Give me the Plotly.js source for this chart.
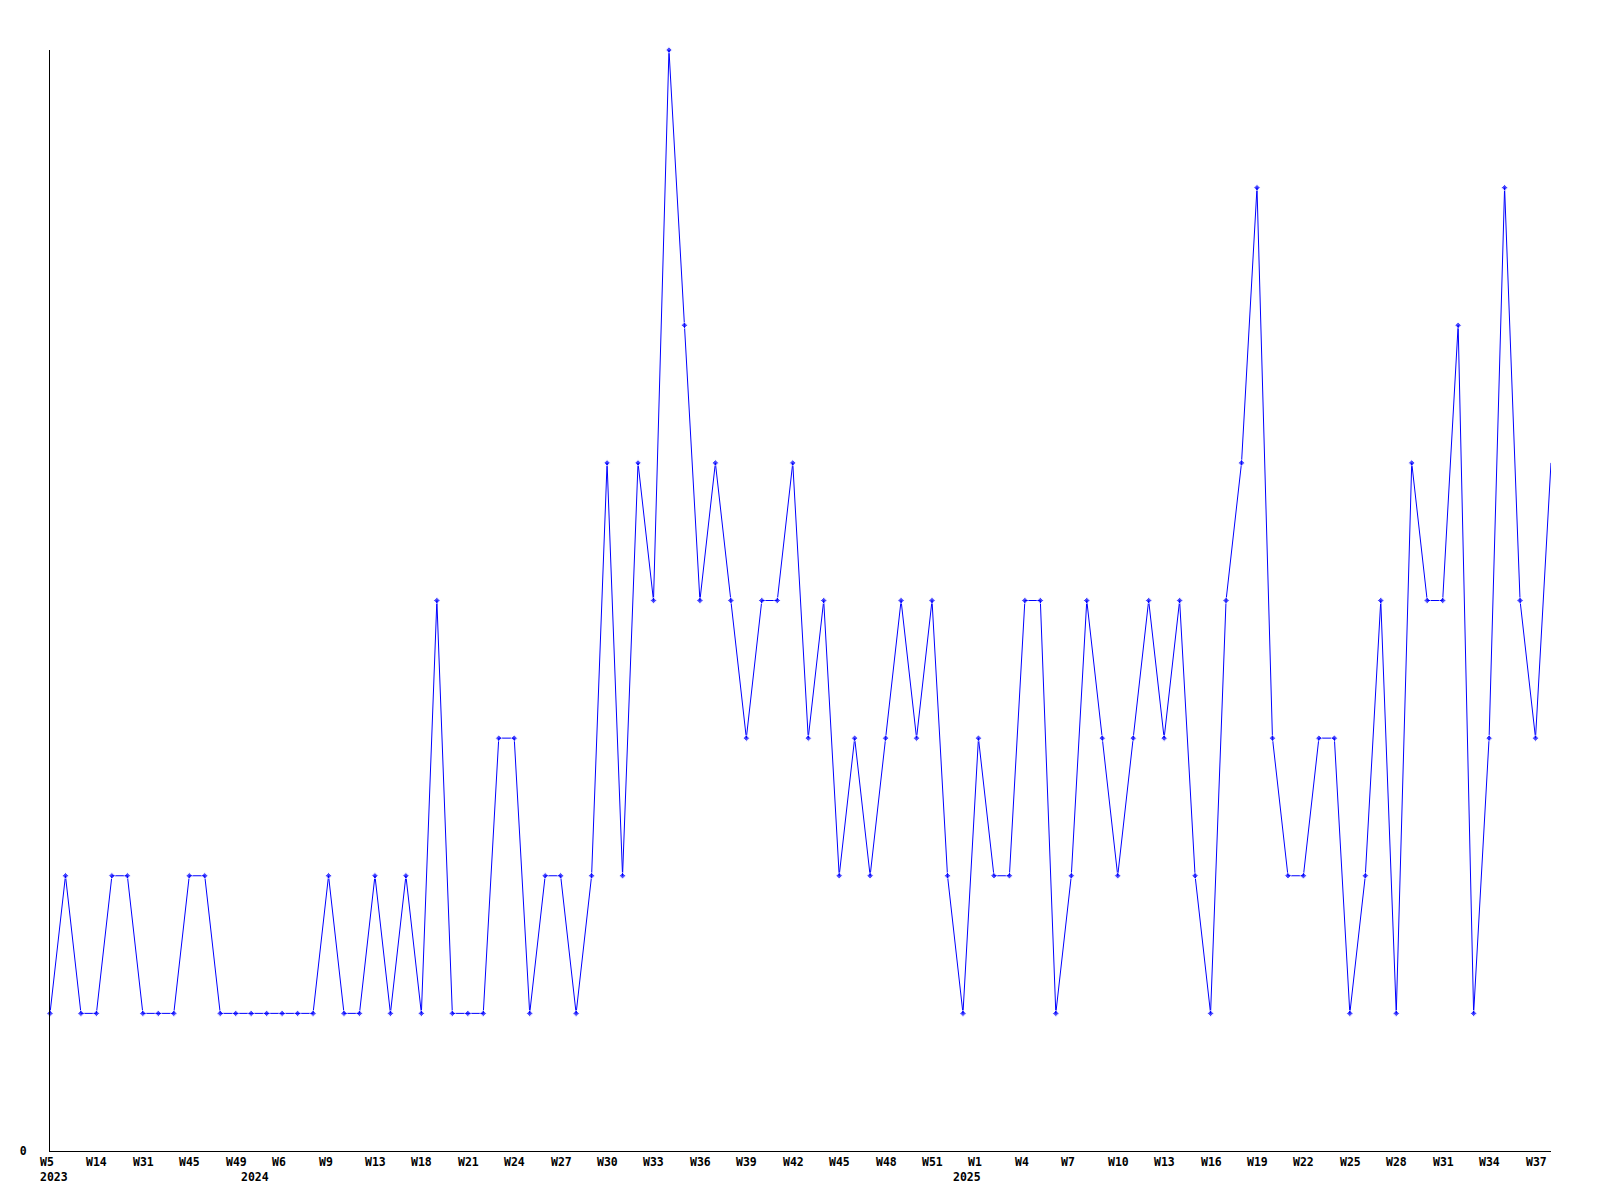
<!DOCTYPE html>
<html>
<head>
<meta charset="utf-8">
<script src="https://cdn.plot.ly/plotly-3.0.1.min.js"></script>
<style>html,body{margin:0;padding:0;background:#fff;}#chart{width:1600px;height:1200px;}</style>
</head>
<body>
<div id="chart"></div>
<script>
// Week category of each point (sparse in 2023, weekly from mid-2024)
const weekLabels = [
  'W5','W8','W11','W14','W20','W26','W31','W37','W41','W45','W46','W48','W49',
  'W0','W3','W6','W7','W8','W9','W10','W11','W13','W15','W16',
  'W18','W19','W20','W21','W22','W23','W24','W25','W26','W27','W28','W29','W30',
  'W31','W32','W33','W34','W35','W36','W37','W38','W39','W40','W41','W42','W43',
  'W44','W45','W46','W47','W48','W49','W50','W51','W52',
  'W0','W1','W2','W3','W4','W5','W6','W7','W8','W9','W10','W11','W12','W13',
  'W14','W15','W16','W17','W18','W19','W20','W21','W22','W23','W24','W25','W26',
  'W27','W28','W29','W30','W31','W32','W33','W34','W35','W36','W37','W38'
];
// Counts per week
const counts = [
  1,2,1,1,2,2,1,1,1,2,2,1,1,
  1,1,1,1,1,2,1,1,2,1,2,
  1,4,1,1,1,3,3,1,2,2,1,2,5,
  2,5,4,8,6,4,5,4,3,4,4,5,3,
  4,2,3,2,3,4,3,4,2,
  1,3,2,2,4,4,1,2,4,3,2,3,4,3,
  4,2,1,4,5,7,3,2,2,3,3,1,2,
  4,1,5,4,4,6,1,3,7,4,3,5
];
// Year labels and the point index where each year starts
const yearLabels = ['2023','2024','2025'];
const yearStartIndex = [0,13,59];
const yTickVals = [0];
const yTickText = ['0'];
const labelEvery = 3;

const xIdx = weekLabels.map((_, i) => i);
const markerSizes = counts.map((_, i) => i === counts.length - 1 ? 0 : 5);

const fontBase = {family: 'DejaVu Sans Mono, monospace', size: 11.5, color: '#000', weight: 'bold'};

const annotations = [];
weekLabels.forEach((w, i) => {
  if (i % labelEvery === 0) {
    annotations.push({
      x: i, xref: 'x', y: 0, yref: 'paper', text: w, showarrow: false,
      xanchor: 'left', yanchor: 'top', xshift: -12, yshift: -2, font: fontBase
    });
  }
});
yearLabels.forEach((yl, k) => {
  annotations.push({
    x: yearStartIndex[k], xref: 'x', y: 0, yref: 'paper', text: yl, showarrow: false,
    xanchor: 'left', yanchor: 'top', xshift: -12, yshift: -17, font: fontBase
  });
});

const trace = {
  x: xIdx,
  y: counts,
  type: 'scatter',
  mode: 'lines+markers',
  line: {color: '#0000ff', width: 1},
  marker: {color: '#0000ff', size: markerSizes, symbol: 'diamond'},
  cliponaxis: false,
  hoverinfo: 'skip'
};

const layout = {
  width: 1600, height: 1200,
  margin: {l: 50, r: 49, t: 50, b: 49, pad: 0},
  paper_bgcolor: '#fff', plot_bgcolor: '#fff',
  showlegend: false,
  xaxis: {
    range: [0, counts.length - 1], showgrid: false, zeroline: false,
    showline: true, linecolor: '#000', linewidth: 1,
    showticklabels: false, ticks: ''
  },
  yaxis: {
    range: [0, 8], showgrid: false, zeroline: false,
    showline: true, linecolor: '#000', linewidth: 1,
    tickvals: yTickVals, ticktext: yTickText, ticks: '',
    ticklabelstandoff: 20, tickfont: fontBase
  },
  annotations: annotations
};

Plotly.newPlot('chart', [trace], layout, {staticPlot: true, displayModeBar: false});
</script>
</body>
</html>
